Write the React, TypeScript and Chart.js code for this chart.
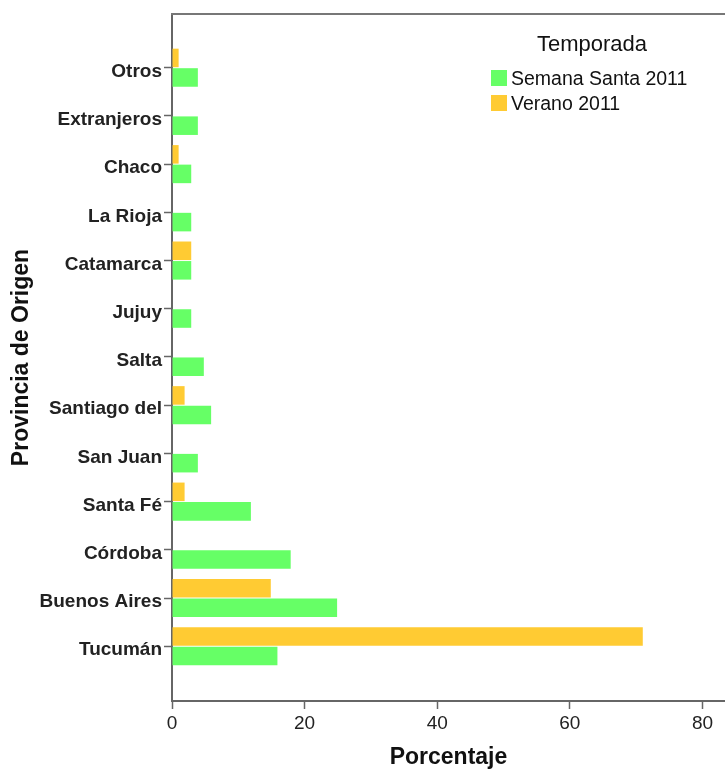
import React, { useEffect, useRef } from "react";
import { Chart, registerables } from "chart.js";

Chart.register(...registerables);

const provinces = [
  "Otros",
  "Extranjeros",
  "Chaco",
  "La Rioja",
  "Catamarca",
  "Jujuy",
  "Salta",
  "Santiago del",
  "San Juan",
  "Santa Fé",
  "Córdoba",
  "Buenos Aires",
  "Tucumán",
];
const verano2011 = [1.0, 0, 1.0, 0, 2.9, 0, 0, 1.9, 0, 1.9, 0, 14.9, 71.0];
const semanaSanta2011 = [3.9, 3.9, 2.9, 2.9, 2.9, 2.9, 4.8, 5.9, 3.9, 11.9, 17.9, 24.9, 15.9];
const xTicks = [0, 20, 40, 60, 80];

const GREEN = "#66ff66";
const ORANGE = "#ffcb33";
const FONT = "'Liberation Sans', Arial, sans-serif";

const topBorder = {
  id: "topBorder",
  afterDraw(chart: any) {
    const { ctx, chartArea } = chart;
    ctx.save();
    ctx.strokeStyle = "#777";
    ctx.lineWidth = 2;
    ctx.beginPath();
    ctx.moveTo(chartArea.left - 1, chartArea.top);
    ctx.lineTo(chartArea.right, chartArea.top);
    ctx.stroke();
    ctx.restore();
  },
};

export default function App() {
  const ref = useRef<HTMLCanvasElement | null>(null);

  useEffect(() => {
    if (!ref.current) return;
    const chart = new Chart(ref.current, {
      type: "bar",
      data: {
        labels: provinces,
        datasets: [
          {
            label: "Verano 2011",
            data: verano2011,
            backgroundColor: ORANGE,
            categoryPercentage: 0.81,
            barPercentage: 0.95,
          },
          {
            label: "Semana Santa 2011",
            data: semanaSanta2011,
            backgroundColor: GREEN,
            categoryPercentage: 0.81,
            barPercentage: 0.95,
          },
        ],
      },
      options: {
        indexAxis: "y",
        responsive: false,
        animation: false,
        layout: { padding: { top: 14, right: 0, left: 0, bottom: 0 } },
        plugins: {
          legend: { display: false },
          tooltip: { enabled: false },
        },
        scales: {
          x: {
            type: "linear",
            min: 0,
            max: 83.4,
            afterFit: (s: any) => {
              s.height = 70;
            },
            afterBuildTicks: (s: any) => {
              s.ticks = xTicks.map((v) => ({ value: v }));
            },
            ticks: {
              includeBounds: false,
              stepSize: 20,
              color: "#222",
              font: { family: FONT, size: 19 },
              padding: 3,
              maxRotation: 0,
            },
            grid: {
              drawOnChartArea: false,
              drawTicks: true,
              tickLength: 8,
              tickColor: "#666",
              tickWidth: 1.5,
            },
            border: { display: true, color: "#666", width: 2 },
            title: {
              display: true,
              text: "Porcentaje",
              color: "#111",
              font: { family: FONT, size: 23, weight: "bold" },
              padding: { top: 0, bottom: 0 },
            },
          },
          y: {
            type: "category",
            afterFit: (s: any) => {
              s.width = 172;
            },
            afterBuildTicks: (s: any) => {
              s._startValue = -1.114;
              s._valueRange = 14.25;
            },
            ticks: {
              color: "#222",
              font: { family: FONT, size: 19, weight: "bold" },
              padding: 2,
              autoSkip: false,
              labelOffset: 4,
            },
            grid: {
              offset: false,
              drawOnChartArea: false,
              drawTicks: true,
              tickLength: 8,
              tickColor: "#666",
              tickWidth: 1.5,
            },
            border: { display: true, color: "#666", width: 2 },
            title: {
              display: true,
              text: "Provincia de Origen",
              color: "#111",
              font: { family: FONT, size: 23, weight: "bold" },
              padding: { top: 8, bottom: 0 },
            },
          },
        },
      },
      plugins: [topBorder],
    } as any);
    return () => chart.destroy();
  }, []);

  const legendItem = (color: string, text: string, top: number) => (
    <div
      style={{
        position: "absolute",
        left: 491,
        top,
        display: "flex",
        alignItems: "center",
        whiteSpace: "nowrap",
      }}
    >
      <div style={{ width: 16, height: 16, background: color, marginRight: 4 }} />
      <span style={{ fontSize: 19.5, lineHeight: "20px", color: "#111" }}>{text}</span>
    </div>
  );

  return (
    <div
      style={{
        position: "absolute",
        left: 0,
        top: 0,
        width: 725,
        height: 771,
        fontFamily: FONT,
        background: "#fff",
      }}
    >
      <canvas ref={ref} width={725} height={771} style={{ display: "block" }} />
      <div
        style={{
          position: "absolute",
          left: 492,
          width: 200,
          top: 32,
          textAlign: "center",
          fontSize: 22,
          lineHeight: "24px",
          color: "#111",
        }}
      >
        Temporada
      </div>
      {legendItem(GREEN, "Semana Santa 2011", 68)}
      {legendItem(ORANGE, "Verano 2011", 93)}
    </div>
  );
}
